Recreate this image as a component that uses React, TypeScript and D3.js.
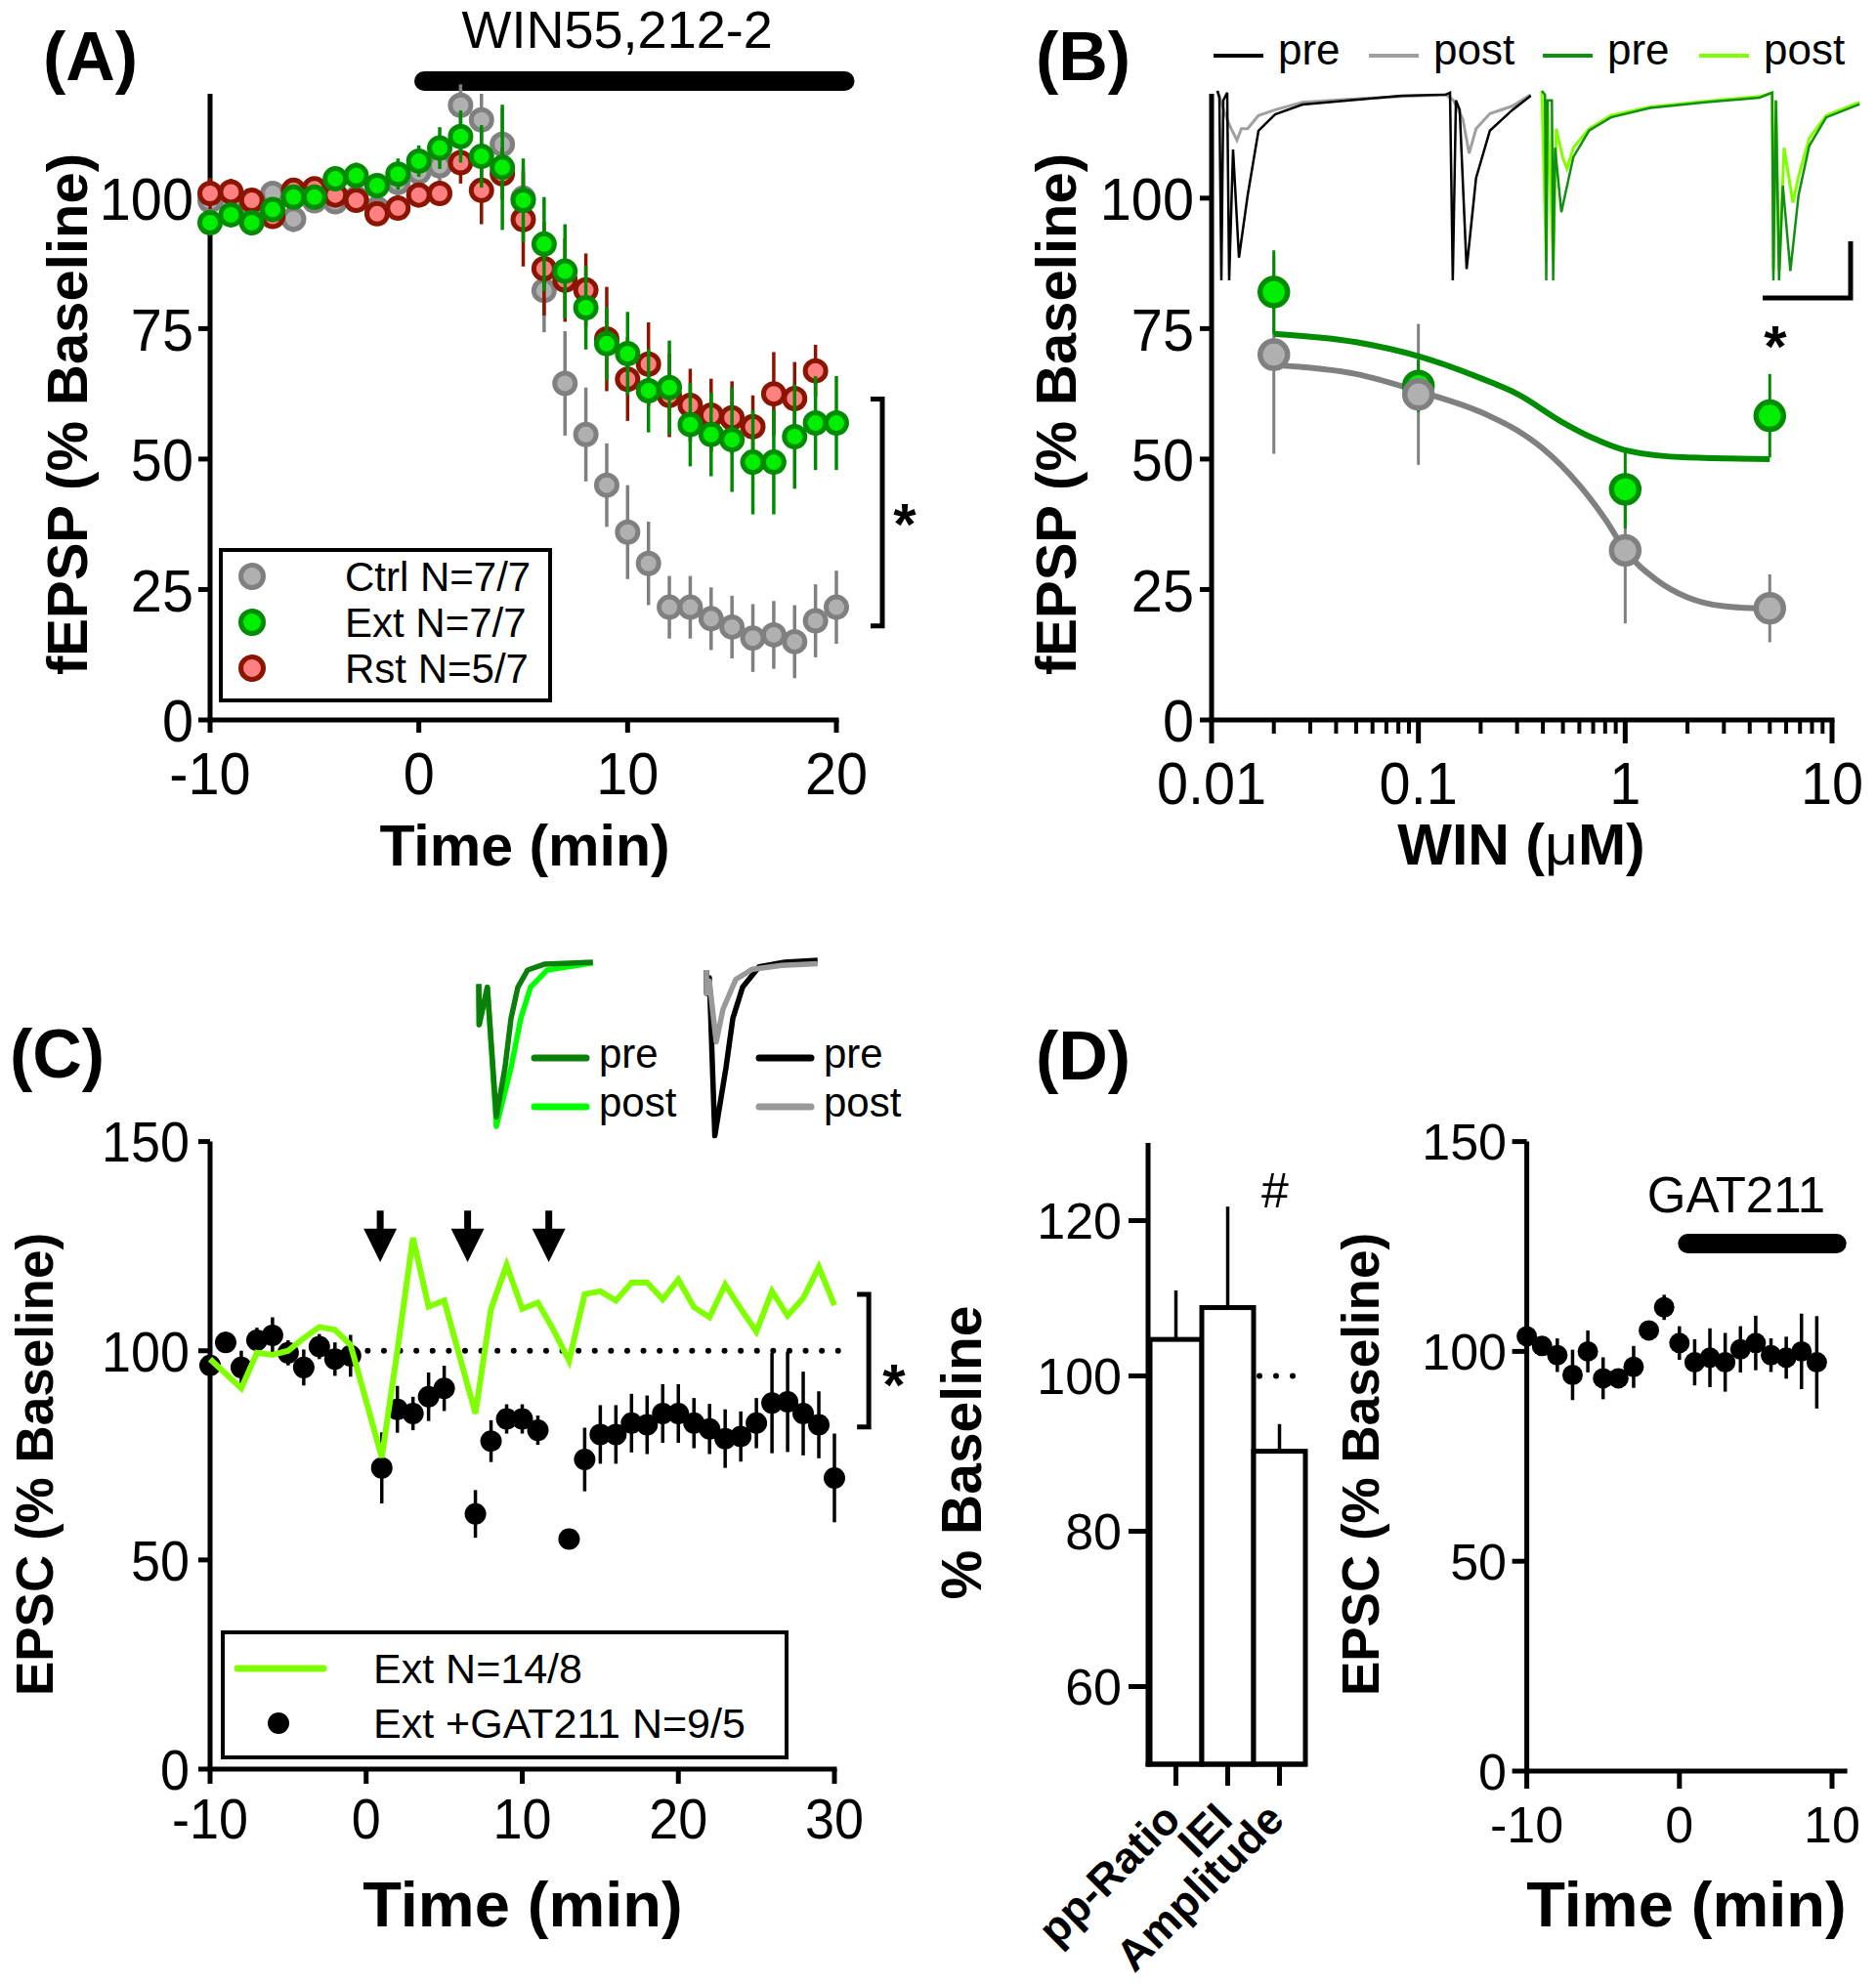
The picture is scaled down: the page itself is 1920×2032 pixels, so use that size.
import React from "react";
import * as d3 from "d3";

const FONT = "'Liberation Sans', Arial, Helvetica, sans-serif";

// ---------------- Panel A ----------------
const aTime = [-10, -9, -8, -7, -6, -5, -4, -3, -2, -1, 0, 1, 2, 3, 4, 5, 6, 7, 8, 9, 10, 11, 12, 13, 14, 15, 16, 17, 18, 19, 20];
const aCtrl = [99.5, 99, 98.5, 100.9, 96, 99.5, 99.3, 100, 98, 103, 105, 106.2, 117.8, 115, 110.3, 100, 82.3, 64.5, 54.7, 45, 36, 30, 21.6, 21.6, 19.4, 17.8, 15.7, 16.3, 15, 19, 21.6];
const aCtrlErr = [2, 2, 2, 2, 2.5, 2, 2, 2, 2, 3, 3, 4, 4, 5, 7, 6, 8, 10, 9, 8, 9, 8, 6, 6, 6, 6, 6.5, 6.5, 7, 7, 7];
const aExt = [95.3, 96.8, 95.3, 97.8, 100.2, 100.2, 103.7, 104.3, 102.4, 104.6, 107.1, 109.6, 111.8, 108, 105.9, 99.6, 91.2, 86, 79, 72.1, 70.2, 63.1, 63.7, 56.6, 54.7, 53.7, 49.4, 49.4, 54.3, 56.9, 56.9];
const aExtErr = [2, 2, 2, 2, 2, 2, 2, 2.5, 2, 3, 3, 4, 5, 6, 12, 8, 9, 9, 8, 7, 8, 8, 9, 8, 8, 10, 10, 10, 10, 9, 9];
const aRstTime = [-10, -9, -8, -7, -6, -5, -4, -3, -2, -1, 0, 1, 2, 3, 4, 5, 6, 7, 8, 9, 10, 11, 12, 13, 14, 15, 16, 17, 18, 19];
const aRst = [100.9, 101.2, 99.6, 96.5, 101.5, 101.8, 100.6, 99.6, 97, 98.1, 100.6, 100.9, 106.8, 101.5, 104.7, 95.9, 86.5, 84.3, 82.4, 73, 65.3, 68.2, 62.2, 60.3, 58.4, 57.9, 56.2, 62.5, 61.6, 66.9];
const aRstErr = [3, 2.5, 2, 2, 2, 2, 2, 2, 2, 2, 2, 2, 4, 6.5, 5, 9, 9, 8, 7, 10, 8, 8, 8, 7, 7, 7, 6, 8, 7, 5];
const aYTicks = [0, 25, 50, 75, 100];
const aXTicks = [-10, 0, 10, 20];
const aLegend = ["Ctrl N=7/7", "Ext N=7/7", "Rst N=5/7"];
const aDrug = [0.25, 20.4];
const aBracket = [61.5, 18];

// ---------------- Panel B ----------------
const bConc = [0.02, 0.1, 1, 5];
const bCtrl = [70, 62.4, 32.5, 21.4];
const bCtrlErr = [19, 13.5, 14, 6.5];
const bExt = [82, 64, 44.2, 58.3];
const bExtErr = [8, 5, 7.5, 8];
const bCtrlFitX = [0.02, 0.05, 0.1, 0.2, 0.3, 0.4, 0.6, 0.8, 1, 1.4, 2, 3, 5];
const bCtrlFitY = [68, 66.3, 63, 59, 55.5, 52, 45, 38.5, 32.5, 27, 23.5, 21.8, 21.3];
const bExtFitX = [0.02, 0.05, 0.1, 0.2, 0.3, 0.5, 0.7, 1, 2, 5];
const bExtFitY = [74, 72.4, 69.7, 65.5, 62.5, 57, 54, 51.7, 50.3, 50];
const bXMajor = [0.01, 0.1, 1, 10];
const bXLabels = ["0.01", "0.1", "1", "10"];
const bXMinor = [0.02, 0.03, 0.04, 0.05, 0.06, 0.07, 0.08, 0.09, 0.2, 0.3, 0.4, 0.5, 0.6, 0.7, 0.8, 0.9, 2, 3, 4, 5, 6, 7, 8, 9];
const bLegend = [
  { label: "pre", color: "#000000" },
  { label: "post", color: "#a0a0a0" },
  { label: "pre", color: "#109010" },
  { label: "post", color: "#80ff00" },
];
// example traces [ms, mV]
const bTraceCtrlPre = [[0, 0], [0.31, -0.036], [0.62, -1], [0.93, -0.05], [1.55, -0.01], [1.86, -1], [2.48, -0.31], [3.42, -0.88], [4.81, -0.55], [6.52, -0.21], [9.16, -0.124], [13.5, -0.072], [20.5, -0.052], [29.3, -0.026], [36.3, -0.02], [36.96, -0.01], [37.4, -1], [37.9, -0.05], [38.5, -0.1], [39.6, -0.94], [41.1, -0.46], [43.3, -0.21], [46.9, -0.1], [49.8, -0.026]];
const bTraceCtrlPost = [[0, 0], [1.5, -0.15], [2.2, -0.2], [3.1, -0.26], [3.8, -0.2], [4.8, -0.2], [6.5, -0.13], [9.2, -0.1], [13.5, -0.06], [20.5, -0.045], [29.3, -0.03], [36.3, -0.02], [37.5, -0.05], [39, -0.15], [40, -0.33], [41.1, -0.2], [43.3, -0.12], [46.9, -0.08], [49.8, -0.02]];
const bTraceExtPre = [[0, 0], [0.5, -0.02], [0.7, -1], [0.9, -0.05], [1.6, -0.05], [1.8, -1], [2.1, -0.3], [3.1, -0.64], [5.0, -0.35], [7.5, -0.21], [11, -0.14], [17.2, -0.09], [25.9, -0.06], [34.6, -0.036], [36.6, -0.01], [36.8, -1], [37.2, -0.05], [37.7, -1], [38.3, -0.5], [39.5, -0.95], [40.8, -0.55], [42.5, -0.29], [45.2, -0.14], [50.5, -0.07]];
const bTraceExtPost = [[0, 0], [0.7, -0.9], [0.9, -0.05], [1.8, -0.9], [2.3, -0.2], [3.3, -0.35], [4.0, -0.41], [5.0, -0.3], [7.5, -0.2], [11, -0.13], [17.2, -0.085], [25.9, -0.055], [34.6, -0.03], [36.6, -0.01], [36.8, -0.95], [37.2, -0.05], [37.7, -0.95], [38.5, -0.3], [39.9, -0.59], [40.8, -0.45], [42.5, -0.25], [45.2, -0.13], [50.5, -0.06]];

// ---------------- Panel C ----------------
const cTime = [-10, -9, -8, -7, -6, -5, -4, -3, -2, -1, 0, 1, 2, 3, 4, 5, 6, 7, 8, 9, 10, 11, 12, 13, 14, 15, 16, 17, 18, 19, 20, 21, 22, 23, 24, 25, 26, 27, 28, 29, 30];
const cExt = [98, 94.5, 91, 99.5, 99, 100, 103, 105.7, 105, 101.4, 88, 74.5, 100, 127, 110.5, 112, 98.5, 85, 110, 120.5, 110, 111.5, 105, 97.6, 113.5, 114.2, 112, 116.3, 116.3, 112.3, 117, 110.4, 108, 115.8, 110, 104.6, 114.2, 108.4, 112.6, 120, 110.9];
const cGatTime = [-10, -9, -8, -7, -6, -5, -4, -3, -2, -1, 1, 2, 3, 4, 5, 7, 8, 9, 10, 11, 13, 14, 15, 16, 17, 18, 19, 20, 21, 22, 23, 24, 25, 26, 27, 28, 29, 30];
const cGat = [96.5, 102, 96, 102.5, 103.7, 99.5, 96, 101, 98, 98.8, 72, 86, 85, 89, 91, 61, 78.4, 83.7, 83.7, 81, 55, 74, 80, 80, 82.7, 82.3, 85, 85, 82.7, 81.3, 79, 79.5, 82.7, 87.5, 87.8, 85, 82.3, 69.6];
const cGatErr = [3, 2.5, 4, 3, 4.3, 3, 4.3, 3, 4, 5, 8.5, 5.6, 4, 5.8, 5.4, 5.7, 5, 3.5, 3.5, 3.5, 2, 7.6, 7, 7, 7, 7, 7, 7, 6, 6, 7, 6, 6, 12, 12, 10, 8, 10.6];
const cYTicks = [0, 50, 100, 150];
const cXTicks = [-10, 0, 10, 20, 30];
const cArrows = [0.9, 6.5, 11.7];
const cBracket = [113.5, 81.8];
const cLegend = ["Ext N=14/8", "Ext +GAT211 N=9/5"];
const cTraceExtPre = [[0, -0.14], [0.1, -0.4], [2.2, -0.16], [4.5, -0.99], [6.7, -0.675], [8.25, -0.36], [10, -0.16], [12.5, -0.05], [16.7, -0.013], [29.2, 0]];
const cTraceExtPost = [[0, -0.14], [0.1, -0.4], [2.2, -0.16], [4.5, -1.05], [8.25, -0.675], [10.75, -0.36], [13.25, -0.16], [17.5, -0.05], [29.2, -0.005]];
const cTraceGatPre = [[0.75, -0.05], [0.8, -0.2], [1.5, -0.1], [2.9, -1.11], [5.75, -0.675], [7.5, -0.36], [10, -0.16], [14.2, -0.03], [20.75, 0], [29.2, 0.012]];
const cTraceGatPost = [[0.75, -0.05], [0.8, -0.2], [1.5, -0.12], [3.25, -0.51], [5, -0.3], [8.25, -0.11], [12.5, -0.045], [20, -0.02], [29.2, -0.01]];

// ---------------- Panel D ----------------
const dCats = ["pp-Ratio", "IEI", "Amplitude"];
const dVals = [104.7, 108.8, 90.3];
const dErr = [6.3, 13, 3.5];
const dLYTicks = [60, 80, 100, 120];
const dTime = [-10, -9, -8, -7, -6, -5, -4, -3, -2, -1, 0, 1, 2, 3, 4, 5, 6, 7, 8, 9];
const dGat = [103.6, 101.3, 99.1, 94.4, 100, 93.6, 93.6, 96.3, 105, 110.5, 102, 97.4, 98.5, 97.4, 100.5, 102, 99.1, 98.5, 100, 97.4];
const dGatErr = [2, 2, 4, 6, 5, 5, 2, 5, 2, 3, 4, 5.5, 7, 7, 5.5, 6.5, 4, 5, 9, 11];
const dRYTicks = [0, 50, 100, 150];
const dRXTicks = [-10, 0, 10];
const dDrug = [0.55, 10.3];

type Sc = (v: number) => number;

function Points(p: { xs: number[]; ys: number[]; es: number[]; x: Sc; y: Sc; r: number; fill: string; stroke: string; sw: number; ew: number }) {
  const { xs, ys, es, x, y, r, fill, stroke, sw, ew } = p;
  return (
    <g>
      {xs.map((t, i) => (
        <line key={"e" + i} x1={x(t)} x2={x(t)} y1={y(ys[i] - es[i])} y2={y(ys[i] + es[i])} stroke={stroke} strokeWidth={ew} />
      ))}
      {xs.map((t, i) => (
        <circle key={"c" + i} cx={x(t)} cy={y(ys[i])} r={r} fill={fill} stroke={stroke} strokeWidth={sw} />
      ))}
    </g>
  );
}

function YLabel(p: { x: number; y: number; size: number; text: string }) {
  return (
    <text transform={`translate(${p.x},${p.y}) rotate(-90)`} dy="0.36em" textAnchor="middle" fontWeight="bold" fontSize={p.size}>
      {p.text}
    </text>
  );
}

// slightly condensed tick label
function NText(p: { x: number; y: number; size: number; anchor: string; dy?: string; text: string | number }) {
  return (
    <text transform={`translate(${p.x},${p.y}) scale(0.93,1)`} dy={p.dy} textAnchor={p.anchor} fontSize={p.size}>
      {p.text}
    </text>
  );
}

export default function App() {
  const AX = 5;
  // A scales
  const xA = d3.scaleLinear().domain([-10, 20]).range([215, 856]);
  const yA = d3.scaleLinear().domain([0, 120]).range([737, 96]);
  // B scales
  const xB = d3.scaleLog().domain([0.01, 10]).range([1240, 1875]);
  const yB = d3.scaleLinear().domain([0, 120]).range([737, 96]);
  const trX1 = d3.scaleLinear().domain([0, 50]).range([1246, 1568]);
  const trX2 = d3.scaleLinear().domain([0, 50]).range([1578, 1900]);
  const trY = d3.scaleLinear().domain([-1, 0]).range([287, 93]);
  // C scales
  const xC = d3.scaleLinear().domain([-10, 30]).range([215, 854]);
  const yC = d3.scaleLinear().domain([0, 150]).range([1811, 1168.6]);
  const ciX1 = d3.scaleLinear().domain([0, 30]).range([490, 610]);
  const ciX2 = d3.scaleLinear().domain([0, 30]).range([720, 840]);
  const ciY = d3.scaleLinear().domain([-1, 0]).range([1145, 985]);
  // D scales
  const xD1 = d3.scaleBand<string>().domain(dCats).range([1177, 1336]).padding(0);
  const yD1 = d3.scaleLinear().domain([50, 130]).range([1806, 1170]);
  const xD2 = d3.scaleLinear().domain([-10, 10]).range([1562.6, 1875]);
  const yD2 = d3.scaleLinear().domain([0, 150]).range([1813, 1168.6]);

  const lineB = d3.line<[number, number]>().x((d) => xB(d[0])).y((d) => yB(d[1])).curve(d3.curveMonotoneX);
  const ctrlFit = lineB(bCtrlFitX.map((c, i) => [c, bCtrlFitY[i]] as [number, number])) || "";
  const extFit = lineB(bExtFitX.map((c, i) => [c, bExtFitY[i]] as [number, number])) || "";
  const tr = (xs: Sc, ys: Sc, data: number[][]) =>
    d3.line<number[]>().x((d) => xs(d[0])).y((d) => ys(d[1]))(data) || "";
  const cLine = d3.line<number>().x((_, i) => xC(cTime[i])).y((d) => yC(d))(cExt) || "";

  const green = "#00ee00";
  const greenS = "#008c00";

  return (
    <svg width={1920} height={2032} style={{ position: "absolute", left: 0, top: 0, background: "#fff" }} fontFamily={FONT}>
      <rect x={0} y={0} width={1920} height={2032} fill="#fff" />

      {/* ================= Panel A ================= */}
      <g>
        <text x={44} y={82} fontSize={70} fontWeight="bold">(A)</text>
        <text x={xA(9.5)} y={49} fontSize={54} textAnchor="middle">WIN55,212-2</text>
        <line x1={xA(aDrug[0])} x2={xA(aDrug[1])} y1={83} y2={83} stroke="#000" strokeWidth={20} strokeLinecap="round" />
        <line x1={xA(-10)} x2={xA(-10)} y1={yA(0) + 2.5} y2={yA(120)} stroke="#000" strokeWidth={AX} />
        {aYTicks.map((v) => (
          <g key={v}>
            <line x1={xA(-10) - 12} x2={xA(-10)} y1={yA(v)} y2={yA(v)} stroke="#000" strokeWidth={AX} />
            <NText x={198} y={yA(v)} dy="0.36em" anchor="end" size={62} text={v} />
          </g>
        ))}
        <line x1={xA(-10) - 2.5} x2={xA(20) + 2.5} y1={yA(0)} y2={yA(0)} stroke="#000" strokeWidth={AX} />
        {aXTicks.map((v) => (
          <g key={v}>
            <line x1={xA(v)} x2={xA(v)} y1={yA(0)} y2={yA(0) + 13} stroke="#000" strokeWidth={AX} />
            <NText x={xA(v)} y={813} anchor="middle" size={62} text={v} />
          </g>
        ))}
        <text x={537} y={886} textAnchor="middle" fontSize={59} fontWeight="bold">Time (min)</text>
        <YLabel x={68} y={424} size={58} text="fEPSP (% Baseline)" />

        <Points xs={aTime} ys={aCtrl} es={aCtrlErr} x={xA} y={yA} r={10.5} fill="#b0b0b0" stroke="#808080" sw={5} ew={3.5} />
        <Points xs={aRstTime} ys={aRst} es={aRstErr} x={xA} y={yA} r={10.5} fill="#ff8080" stroke="#8b1500" sw={5} ew={3.5} />
        <Points xs={aTime} ys={aExt} es={aExtErr} x={xA} y={yA} r={10.5} fill={green} stroke={greenS} sw={5} ew={3.5} />

        {/* bracket */}
        <path d={`M${xA(22.2) - 12},${yA(aBracket[0])} H${xA(22.2)} V${yA(aBracket[1])} H${xA(22.2) - 12}`} fill="none" stroke="#000" strokeWidth={5} />
        <text x={926} y={557} textAnchor="middle" fontSize={60} fontWeight="bold">*</text>

        {/* legend */}
        <rect x={226} y={563} width={337} height={154} fill="#fff" stroke="#000" strokeWidth={4} />
        {aLegend.map((l, i) => {
          const cols = [["#b0b0b0", "#808080"], [green, greenS], ["#ff8080", "#8b1500"]][i];
          const cy = 590 + i * 47;
          return (
            <g key={l}>
              <circle cx={258} cy={cy} r={11.5} fill={cols[0]} stroke={cols[1]} strokeWidth={5} />
              <text x={353} y={cy} dy="0.36em" fontSize={42}>{l}</text>
            </g>
          );
        })}
      </g>

      {/* ================= Panel B ================= */}
      <g>
        <text x={1060} y={82} fontSize={70} fontWeight="bold">(B)</text>
        {bLegend.map((l, i) => {
          const x0 = [1242, 1401, 1579, 1739][i];
          return (
            <g key={i}>
              <line x1={x0} x2={x0 + 51} y1={57} y2={57} stroke={l.color} strokeWidth={4} />
              <text x={x0 + 66} y={66} fontSize={44}>{l.label}</text>
            </g>
          );
        })}
        {/* traces */}
        <path d={tr(trX1, trY, bTraceCtrlPost)} fill="none" stroke="#a0a0a0" strokeWidth={3} />
        <path d={tr(trX1, trY, bTraceCtrlPre)} fill="none" stroke="#000" strokeWidth={2.5} />
        <path d={tr(trX2, trY, bTraceExtPost)} fill="none" stroke="#80ff00" strokeWidth={3} />
        <path d={tr(trX2, trY, bTraceExtPre)} fill="none" stroke="#109010" strokeWidth={2.5} />
        {/* scale bar */}
        <path d="M1804,305 H1894 V247" fill="none" stroke="#000" strokeWidth={5} />
        <text x={1817} y={375} textAnchor="middle" fontSize={60} fontWeight="bold">*</text>

        <line x1={xB(0.01)} x2={xB(0.01)} y1={yB(0) + 2.5} y2={yB(120)} stroke="#000" strokeWidth={AX} />
        {aYTicks.map((v) => (
          <g key={v}>
            <line x1={xB(0.01) - 12} x2={xB(0.01)} y1={yB(v)} y2={yB(v)} stroke="#000" strokeWidth={AX} />
            <NText x={1222} y={yB(v)} dy="0.36em" anchor="end" size={62} text={v} />
          </g>
        ))}
        <line x1={xB(0.01) - 2.5} x2={xB(10) + 2.5} y1={yB(0)} y2={yB(0)} stroke="#000" strokeWidth={AX} />
        {bXMajor.map((v, i) => (
          <g key={v}>
            <line x1={xB(v)} x2={xB(v)} y1={yB(0)} y2={yB(0) + 24} stroke="#000" strokeWidth={AX} />
            <NText x={xB(v)} y={823} anchor="middle" size={62} text={bXLabels[i]} />
          </g>
        ))}
        {bXMinor.map((v) => (
          <line key={v} x1={xB(v)} x2={xB(v)} y1={yB(0)} y2={yB(0) + 14} stroke="#000" strokeWidth={4} />
        ))}
        <text x={1557} y={885} textAnchor="middle" fontSize={59} fontWeight="bold">
          WIN (<tspan fontWeight="normal">μ</tspan>M)
        </text>
        <YLabel x={1080} y={424} size={58} text="fEPSP (% Baseline)" />

        {/* error bars */}
        {bConc.map((c, i) => (
          <line key={"ge" + i} x1={xB(c)} x2={xB(c)} y1={yB(bCtrl[i] - bCtrlErr[i])} y2={yB(bCtrl[i] + bCtrlErr[i])} stroke="#808080" strokeWidth={3} />
        ))}
        {bConc.map((c, i) => (
          <line key={"xe" + i} x1={xB(c)} x2={xB(c)} y1={yB(bExt[i] - bExtErr[i])} y2={yB(bExt[i] + bExtErr[i])} stroke={greenS} strokeWidth={3} />
        ))}
        <path d={ctrlFit} fill="none" stroke="#808080" strokeWidth={6} />
        <path d={extFit} fill="none" stroke={greenS} strokeWidth={6} />
        {bConc.map((c, i) => (
          <circle key={"xc" + i} cx={xB(c)} cy={yB(bExt[i])} r={14} fill={green} stroke={greenS} strokeWidth={5.5} />
        ))}
        {bConc.map((c, i) => (
          <circle key={"gc" + i} cx={xB(c)} cy={yB(bCtrl[i])} r={14} fill="#b0b0b0" stroke="#808080" strokeWidth={5.5} />
        ))}
      </g>

      {/* ================= Panel C ================= */}
      <g>
        <text x={10} y={1103} fontSize={70} fontWeight="bold">(C)</text>
        {/* inset traces */}
        <path d={tr(ciX1, ciY, cTraceExtPost)} fill="none" stroke="#00ff00" strokeWidth={5.5} strokeLinejoin="round" />
        <path d={tr(ciX1, ciY, cTraceExtPre)} fill="none" stroke="#0a800a" strokeWidth={5.5} strokeLinejoin="round" />
        <path d={tr(ciX2, ciY, cTraceGatPre)} fill="none" stroke="#000" strokeWidth={5.5} strokeLinejoin="round" />
        <path d={tr(ciX2, ciY, cTraceGatPost)} fill="none" stroke="#999999" strokeWidth={5.5} strokeLinejoin="round" />
        {[
          { x: 547, y: 1083, c: "#0a800a", t: "pre" },
          { x: 547, y: 1133, c: "#00ff00", t: "post" },
          { x: 777, y: 1083, c: "#000", t: "pre" },
          { x: 777, y: 1133, c: "#999999", t: "post" },
        ].map((d, i) => (
          <g key={i}>
            <line x1={d.x} x2={d.x + 53} y1={d.y} y2={d.y} stroke={d.c} strokeWidth={7} strokeLinecap="round" />
            <text x={d.x + 66} y={d.y + 10} fontSize={42}>{d.t}</text>
          </g>
        ))}

        <line x1={xC(-10)} x2={xC(-10)} y1={yC(0) + 2.5} y2={yC(150)} stroke="#000" strokeWidth={AX} />
        {cYTicks.map((v) => (
          <g key={v}>
            <line x1={xC(-10) - 12} x2={xC(-10)} y1={yC(v)} y2={yC(v)} stroke="#000" strokeWidth={AX} />
            <NText x={194} y={yC(v)} dy="0.36em" anchor="end" size={58} text={v} />
          </g>
        ))}
        <line x1={xC(-10) - 2.5} x2={xC(30) + 2.5} y1={yC(0)} y2={yC(0)} stroke="#000" strokeWidth={AX} />
        {cXTicks.map((v) => (
          <g key={v}>
            <line x1={xC(v)} x2={xC(v)} y1={yC(0)} y2={yC(0) + 15} stroke="#000" strokeWidth={AX} />
            <NText x={xC(v)} y={1882} anchor="middle" size={58} text={v} />
          </g>
        ))}
        <text x={535} y={1972} textAnchor="middle" fontSize={65} fontWeight="bold">Time (min)</text>
        <YLabel x={35} y={1499} size={53} text="EPSC (% Baseline)" />

        <line x1={xC(0.1)} x2={xC(30.4)} y1={yC(100)} y2={yC(100)} stroke="#000" strokeWidth={6} strokeDasharray="0 16.6" strokeLinecap="round" />
        <Points xs={cGatTime} ys={cGat} es={cGatErr} x={xC} y={yC} r={11} fill="#000" stroke="#000" sw={0} ew={3.5} />
        <path d={cLine} fill="none" stroke="#80ff00" strokeWidth={6} />

        {cArrows.map((t) => (
          <g key={t}>
            <line x1={xC(t)} x2={xC(t)} y1={yC(133.5)} y2={yC(128)} stroke="#000" strokeWidth={7} />
            <path d={`M${xC(t) - 17},${yC(129.2)} L${xC(t) + 17},${yC(129.2)} L${xC(t)},${yC(121.2)} Z`} fill="#000" />
          </g>
        ))}
        <path d={`M${xC(32.2) - 12},${yC(cBracket[0])} H${xC(32.2)} V${yC(cBracket[1])} H${xC(32.2) - 12}`} fill="none" stroke="#000" strokeWidth={5} />
        <text x={915} y={1438} textAnchor="middle" fontSize={60} fontWeight="bold">*</text>

        <rect x={228} y={1671} width={577} height={128} fill="#fff" stroke="#000" strokeWidth={4} />
        <line x1={243} x2={331} y1={1708} y2={1708} stroke="#80ff00" strokeWidth={7} strokeLinecap="round" />
        <text x={382} y={1708} dy="0.36em" fontSize={43}>{cLegend[0]}</text>
        <circle cx={285} cy={1764} r={11} fill="#000" />
        <text x={382} y={1764} dy="0.36em" fontSize={43}>{cLegend[1]}</text>
      </g>

      {/* ================= Panel D ================= */}
      <g>
        <text x={1060} y={1105} fontSize={70} fontWeight="bold">(D)</text>
        {/* bar chart */}
        {dCats.map((c, i) => (
          <line key={"be" + i} x1={(xD1(c) || 0) + xD1.bandwidth() / 2} x2={(xD1(c) || 0) + xD1.bandwidth() / 2} y1={yD1(dVals[i])} y2={yD1(dVals[i] + dErr[i])} stroke="#000" strokeWidth={3.5} />
        ))}
        {dCats.map((c, i) => (
          <rect key={"b" + i} x={xD1(c) || 0} y={yD1(dVals[i])} width={xD1.bandwidth()} height={yD1(50) - yD1(dVals[i])} fill="#fff" stroke="#000" strokeWidth={5} />
        ))}
        <line x1={1175} x2={1175} y1={yD1(50) + 2.5} y2={yD1(130)} stroke="#000" strokeWidth={AX} />
        {dLYTicks.map((v) => (
          <g key={v}>
            <line x1={1175 - 20} x2={1175} y1={yD1(v)} y2={yD1(v)} stroke="#000" strokeWidth={AX} />
            <text x={1148} y={yD1(v)} dy="0.36em" textAnchor="end" fontSize={52}>{v}</text>
          </g>
        ))}
        <line x1={1172.5} x2={1338} y1={yD1(50)} y2={yD1(50)} stroke="#000" strokeWidth={AX} />
        {dCats.map((c) => {
          const cx = (xD1(c) || 0) + xD1.bandwidth() / 2;
          return (
            <g key={c}>
              <line x1={cx} x2={cx} y1={yD1(50)} y2={yD1(50) + 22} stroke="#000" strokeWidth={AX} />
              <text transform={`translate(${cx + 7},${1865}) rotate(-45)`} textAnchor="end" fontSize={45} fontWeight="bold">{c}</text>
            </g>
          );
        })}
        <line x1={(xD1("Amplitude") || 0) + 6} x2={(xD1("Amplitude") || 0) + 46} y1={yD1(100)} y2={yD1(100)} stroke="#000" strokeWidth={6} strokeDasharray="0 17" strokeLinecap="round" />
        <text x={1305} y={1236} textAnchor="middle" fontSize={50}>#</text>
        <YLabel x={983} y={1487} size={57} text="% Baseline" />

        {/* right time course */}
        <text x={1777} y={1241} textAnchor="middle" fontSize={51}>GAT211</text>
        <line x1={xD2(dDrug[0])} x2={xD2(dDrug[1])} y1={1273} y2={1273} stroke="#000" strokeWidth={20} strokeLinecap="round" />
        <line x1={xD2(-10)} x2={xD2(-10)} y1={yD2(0) + 2.5} y2={yD2(150)} stroke="#000" strokeWidth={AX} />
        {dRYTicks.map((v) => (
          <g key={v}>
            <line x1={xD2(-10) - 15} x2={xD2(-10)} y1={yD2(v)} y2={yD2(v)} stroke="#000" strokeWidth={AX} />
            <text x={1542} y={yD2(v)} dy="0.36em" textAnchor="end" fontSize={52}>{v}</text>
          </g>
        ))}
        <line x1={xD2(-10) - 2.5} x2={xD2(11)} y1={yD2(0)} y2={yD2(0)} stroke="#000" strokeWidth={AX} />
        {dRXTicks.map((v) => (
          <g key={v}>
            <line x1={xD2(v)} x2={xD2(v)} y1={yD2(0)} y2={yD2(0) + 18} stroke="#000" strokeWidth={AX} />
            <text x={xD2(v)} y={1886} textAnchor="middle" fontSize={52}>{v}</text>
          </g>
        ))}
        <text x={1726} y={1972} textAnchor="middle" fontSize={65} fontWeight="bold">Time (min)</text>
        <YLabel x={1392} y={1499} size={53} text="EPSC (% Baseline)" />
        <Points xs={dTime} ys={dGat} es={dGatErr} x={xD2} y={yD2} r={10.5} fill="#000" stroke="#000" sw={0} ew={3.5} />
      </g>
    </svg>
  );
}
